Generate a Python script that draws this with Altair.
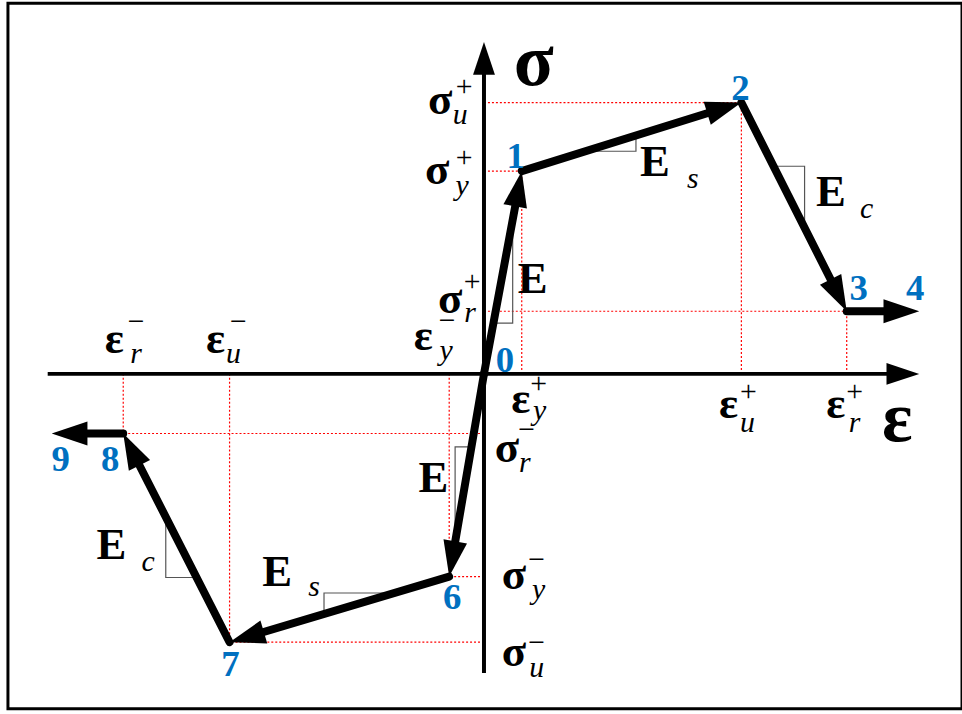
import math
import altair as alt
import pandas as pd

# Idealised cyclic stress-strain path (normalised units)
# tension branch: points 0-1-2-3-4
STRAIN_T = [0.0, 0.38, 2.59, 3.65, 4.38]
STRESS_T = [0.0, 2.04, 2.73, 0.63, 0.63]
IDS_T = ["0", "1", "2", "3", "4"]
# compression branch: points 0-6-7-8-9
STRAIN_C = [0.0, -0.35, -2.56, -3.63, -4.35]
STRESS_C = [0.0, -2.04, -2.70, -0.60, -0.60]
IDS_C = ["0", "6", "7", "8", "9"]

# characteristic-point subscripts (yield, ultimate, residual)
SUBS = ["y", "u", "r"]

# axis extents
AXIS_X = [-4.39, 4.38]
AXIS_Y = [-3.01, 3.34]

# slope triangles: fractions along segments 0-1, 1-2, 2-3
TRI_T = [(0.25, 0.76), (0.29, 0.52), (0.305, 0.60)]
TRI_C = [(0.36, 0.83), (0.25, 0.57), (0.31, 0.60)]

FONT = "'Liberation Serif', 'Times New Roman', Times, serif"
BLUE = "#0070C0"
ARROW = "M0,0L0.667,2L-0.667,2Z"

xs = alt.Scale(domain=[-4.79, 4.81], nice=False, zero=False)
ys = alt.Scale(domain=[-3.37, 3.73], nice=False, zero=False)
X = lambda f="x": alt.X(f"{f}:Q", scale=xs, axis=None)
Y = lambda f="y": alt.Y(f"{f}:Q", scale=ys, axis=None)


def arrow_table(xs_, ys_, trim):
    rows = []
    for i in range(len(xs_) - 1):
        x0, y0, x1, y1 = xs_[i], ys_[i], xs_[i + 1], ys_[i + 1]
        dx, dy = x1 - x0, y1 - y0
        n = math.hypot(dx, dy)
        rows.append({
            "x": x0, "y": y0,
            "x2": x1 - dx / n * trim, "y2": y1 - dy / n * trim,
            "tx": x1, "ty": y1,
            "angle": math.degrees(math.atan2(dx, dy)) % 360,
        })
    return rows


segs = pd.DataFrame(arrow_table(STRAIN_T, STRESS_T, 0.2) + arrow_table(STRAIN_C, STRESS_C, 0.2))
axes = pd.DataFrame(
    arrow_table([AXIS_X[0], AXIS_X[1]], [0, 0], 0.2)
    + arrow_table([0, 0], [AXIS_Y[0], AXIS_Y[1]], 0.2)
)

# dotted projections of points 1,2,3 and 6,7,8 onto the axes
proj = []
for sx, sy in ((STRAIN_T, STRESS_T), (STRAIN_C, STRESS_C)):
    for i in (1, 2, 3):
        proj.append({"x": 0.0, "x2": sx[i], "y": sy[i], "y2": sy[i]})
        proj.append({"x": sx[i], "x2": sx[i], "y": 0.0, "y2": sy[i]})
proj = pd.DataFrame(proj)

# slope triangles
tri = []
k = 0
for sx, sy, params in ((STRAIN_T, STRESS_T, TRI_T), (STRAIN_C, STRESS_C, TRI_C)):
    for i, (t1, t2) in enumerate(params):
        ax_, ay_ = sx[i], sy[i]
        bx_, by_ = sx[i + 1], sy[i + 1]
        p1 = (ax_ + t1 * (bx_ - ax_), ay_ + t1 * (by_ - ay_))
        p2 = (ax_ + t2 * (bx_ - ax_), ay_ + t2 * (by_ - ay_))
        for o, (px, py) in enumerate([p1, (p2[0], p1[1]), p2]):
            tri.append({"id": k, "o": o, "x": px, "y": py})
        k += 1
tri = pd.DataFrame(tri)

layers = []

layers.append(
    alt.Chart(proj).mark_rule(color="#FF0000", strokeWidth=1.2, strokeDash=[2, 2])
    .encode(x=X(), x2="x2:Q", y=Y(), y2="y2:Q")
)
layers.append(
    alt.Chart(tri).mark_line(color="#555555", strokeWidth=1.2)
    .encode(x=X(), y=Y(), detail="id:N", order="o:Q")
)
layers.append(
    alt.Chart(axes).mark_rule(color="black", strokeWidth=4)
    .encode(x=X(), x2="x2:Q", y=Y(), y2="y2:Q")
)
layers.append(
    alt.Chart(axes).mark_point(shape=ARROW, filled=True, size=1089, color="black", opacity=1, strokeWidth=0)
    .encode(x=X("tx"), y=Y("ty"), angle=alt.Angle("angle:Q", scale=None))
)
layers.append(
    alt.Chart(segs).mark_rule(color="black", strokeWidth=8, strokeCap="round")
    .encode(x=X(), x2="x2:Q", y=Y(), y2="y2:Q")
)
layers.append(
    alt.Chart(segs).mark_point(shape=ARROW, filled=True, size=1296, color="black", opacity=1, strokeWidth=0)
    .encode(x=X("tx"), y=Y("ty"), angle=alt.Angle("angle:Q", scale=None))
)


def label(text, x, y, dx, dy, size, weight="normal", style="normal", color="black"):
    return alt.Chart(pd.DataFrame({"x": [x], "y": [y], "t": [text]})).mark_text(
        dx=dx, dy=dy, fontSize=size, fontWeight=weight, fontStyle=style,
        font=FONT, color=color, align="center", baseline="alphabetic",
    ).encode(x=X(), y=Y(), text="t:N")


def sym(base, sign, sub, x, y, off):
    (bx, by), (px, py), (sx_, sy_) = off
    return [
        label(base, x, y, bx, by, 45, weight="bold"),
        label(sign, x, y, px, py, 30),
        label(sub, x, y, sx_, sy_, 30, style="italic"),
    ]


# strain labels on the horizontal axis
EPS_T_OFF = {"y": ((-1, 39), (17, 19), (18, 46)),
             "u": ((-13, 44), (7, 27), (6, 58)),
             "r": ((-11, 44), (8, 27), (8, 58))}
EPS_C_OFF = {"y": ((-26, -24), (-2, -44), (-3, -14)),
             "u": ((-14, -21), (9, -43), (4, -11)),
             "r": ((-9, -21), (13, -43), (13, -11))}
SIG_T_OFF = {"y": ((-47, 13), (-20, -4), (-22, 24)),
             "u": ((-44, 11), (-20, -7), (-24, 22)),
             "r": ((-34, 2), (-12, -20), (-14, 11))}
SIG_C_OFF = {"y": ((30, 12), (53, -8), (55, 23)),
             "u": ((30, 24), (53, 10), (53, 35)),
             "r": ((23, 29), (43, 6), (41, 39))}

for i, s in enumerate(SUBS, start=1):
    layers += sym("ε", "+", s, STRAIN_T[i], 0.0, EPS_T_OFF[s])
    layers += sym("ε", "−", s, STRAIN_C[i], 0.0, EPS_C_OFF[s])
    layers += sym("σ", "+", s, 0.0, STRESS_T[i], SIG_T_OFF[s])
    layers += sym("σ", "−", s, 0.0, STRESS_C[i], SIG_C_OFF[s])

# axis titles
layers.append(label("σ", 0.0, AXIS_Y[1], 50, 43, 74, weight="bold"))
layers.append(label("ε", AXIS_X[1], 0.0, -22, 68, 72, weight="bold"))

# stiffness labels
layers.append(label("E", STRAIN_T[0], STRESS_T[0], 49, -81, 45, weight="bold"))
layers.append(label("E", STRAIN_T[1], STRESS_T[1], 134, 5, 45, weight="bold"))
layers.append(label("s", STRAIN_T[1], STRESS_T[1], 172, 17, 30, style="italic"))
layers.append(label("E", STRAIN_T[2], STRESS_T[2], 90, 104, 45, weight="bold"))
layers.append(label("c", STRAIN_T[2], STRESS_T[2], 126, 116, 30, style="italic"))
layers.append(label("E", STRAIN_C[0], STRESS_C[0], -51, 119, 45, weight="bold"))
layers.append(label("E", STRAIN_C[1], STRESS_C[1], -173, 9, 45, weight="bold"))
layers.append(label("s", STRAIN_C[1], STRESS_C[1], -136, 20, 30, style="italic"))
layers.append(label("E", STRAIN_C[3], STRESS_C[3], -12, 126, 45, weight="bold"))
layers.append(label("c", STRAIN_C[3], STRESS_C[3], 25, 138, 30, style="italic"))

# point numbers
NUM_T_OFF = [(21, -2), (-6, -3), (-1, -3), (12, -11), (-4, -11)]
NUM_C_OFF = [None, (3, 33), (1, 34), (-13, 38), (9, 38)]
for i in range(5):
    layers.append(label(IDS_T[i], STRAIN_T[i], STRESS_T[i], *NUM_T_OFF[i], 37, weight="bold", color=BLUE))
for i in range(1, 5):
    layers.append(label(IDS_C[i], STRAIN_C[i], STRESS_C[i], *NUM_C_OFF[i], 37, weight="bold", color=BLUE))

chart = (
    alt.layer(*layers)
    .properties(width=960, height=710, autosize="none",
                padding={"left": 8, "top": 1, "right": 0, "bottom": 0},
                background="white")
    .configure_view(stroke="black", strokeWidth=3)
)

chart.save("out.html", embed_options={"renderer": "svg", "actions": False})
